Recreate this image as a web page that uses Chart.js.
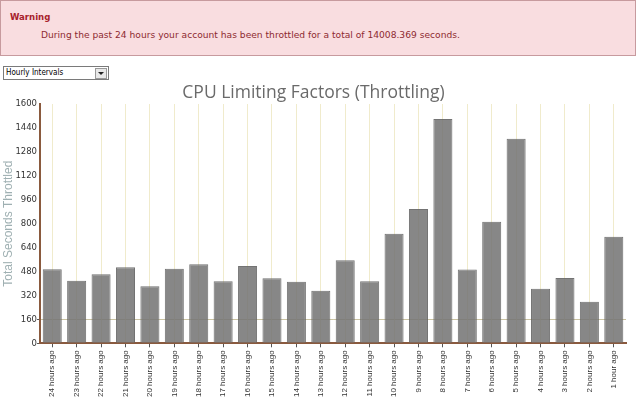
<!DOCTYPE html>
<html>
<head>
<meta charset="utf-8">
<script src="https://cdn.jsdelivr.net/npm/chart.js@4"></script>
<style>
  body { margin: 0; width: 636px; height: 404px; background: #fff; position: relative; overflow: hidden; font-family: "DejaVu Sans", Verdana, sans-serif; }
  .warn { position: absolute; left: 0; top: 0; width: 634px; height: 54px; background: #f9dde0; border: 1px solid #c79a9e; }
  .warn h4 { margin: 0; position: absolute; left: 9px; top: 10px; font-family: "DejaVu Sans Condensed", "DejaVu Sans", sans-serif; font-size: 9.5px; font-weight: bold; color: #a8222c; }
  .warn p { margin: 0; position: absolute; left: 40px; top: 29px; font-size: 9.15px; color: #8e2a30; }
  .sel { position: absolute; left: 3px; top: 66px; width: 104px; height: 12px; border: 1px solid #7a7a7a; font-family: "DejaVu Sans Condensed", "DejaVu Sans", sans-serif; font-size: 8px; line-height: 12px; color: #000; background: #fff; }
  .sel span { padding-left: 2px; }
  .sel i { position: absolute; right: 1px; top: 1px; width: 10px; height: 9px; border: 1px solid #999; background: #e8e8e8; }
  .sel i:after { content: ""; position: absolute; left: 2px; top: 3px; border-left: 3px solid transparent; border-right: 3px solid transparent; border-top: 3px solid #222; }
  #wrap { position: absolute; left: 0; top: 80px; width: 636px; height: 324px; }
</style>
</head>
<body>
<div class="warn">
  <h4>Warning</h4>
  <p>During the past 24 hours your account has been throttled for a total of 14008.369 seconds.</p>
</div>
<div class="sel"><span>Hourly Intervals</span><i></i></div>
<div id="wrap"><canvas id="cpuChart"></canvas></div>
<script>
// --- data ---
const hourLabels = ['24 hours ago', '23 hours ago', '22 hours ago', '21 hours ago', '20 hours ago', '19 hours ago',
    '18 hours ago', '17 hours ago', '16 hours ago', '15 hours ago', '14 hours ago', '13 hours ago',
    '12 hours ago', '11 hours ago', '10 hours ago', '9 hours ago', '8 hours ago', '7 hours ago',
    '6 hours ago', '5 hours ago', '4 hours ago', '3 hours ago', '2 hours ago', '1 hour ago'];
const secondsThrottled = [495, 418, 462, 509, 382, 498, 528, 415, 517, 435, 411, 351,
    555, 415, 732, 898, 1500, 493, 813, 1367, 364, 436, 278, 713];
const yTicks = [0, 160, 320, 480, 640, 800, 960, 1120, 1280, 1440, 1600];
const thresholdValue = 160;

const axisBrown = '#8a5a3e';

const ctx = document.getElementById('cpuChart').getContext('2d');
const cpuChart = new Chart(ctx, {
    type: 'bar',
    data: {
        labels: hourLabels,
        datasets: [{
            label: 'Total Seconds Throttled',
            data: secondsThrottled,
            backgroundColor: 'rgba(118, 118, 118, 0.88)',
            borderColor: 'rgba(100, 100, 100, 0.9)',
            borderWidth: 1,
            barPercentage: 0.78,
            categoryPercentage: 1
        }]
    },
    options: {
        responsive: true,
        maintainAspectRatio: false,
        animation: false,
        layout: { padding: { left: 1, right: 10, top: 0, bottom: 4 } },
        scales: {
            y: {
                min: 0,
                max: 1600,
                afterBuildTicks: axis => { axis.ticks = yTicks.map(v => ({ value: v })); },
                border: { display: true, color: axisBrown, width: 2 },
                grid: {
                    drawOnChartArea: true,
                    color: c => c.tick && c.tick.value === thresholdValue ? 'rgba(150, 135, 70, 0.5)' : 'rgba(0,0,0,0)',
                    tickColor: c => c.tick && c.tick.value <= thresholdValue ? '#555' : 'rgba(0,0,0,0)',
                    tickLength: 3
                },
                ticks: {
                    color: '#333',
                    font: { family: 'DejaVu Sans', size: 8.5 },
                    padding: 0,
                    callback: v => String(v)
                },
                title: {
                    display: true,
                    text: 'Total Seconds Throttled',
                    color: '#9fb0b2',
                    font: { family: 'Liberation Sans', size: 12 },
                    padding: { top: 0, bottom: 0 }
                }
            },
            x: {
                border: { display: true, color: axisBrown, width: 2 },
                grid: {
                    offset: false,
                    color: 'rgba(230, 222, 170, 0.6)',
                    tickColor: '#555',
                    tickLength: 4
                },
                ticks: {
                    color: '#333',
                    font: { family: 'Liberation Sans', size: 8 },
                    minRotation: 90,
                    maxRotation: 90,
                    autoSkip: false,
                    padding: 3
                }
            }
        },
        plugins: {
            legend: { display: false },
            tooltip: { enabled: false },
            title: {
                display: true,
                text: 'CPU Limiting Factors (Throttling)',
                color: '#6a6a6a',
                font: { family: 'Open Sans', size: 17.5, weight: 'normal' },
                padding: { top: 3, bottom: 0 }
            }
        }
    }
});
</script>
</body>
</html>
